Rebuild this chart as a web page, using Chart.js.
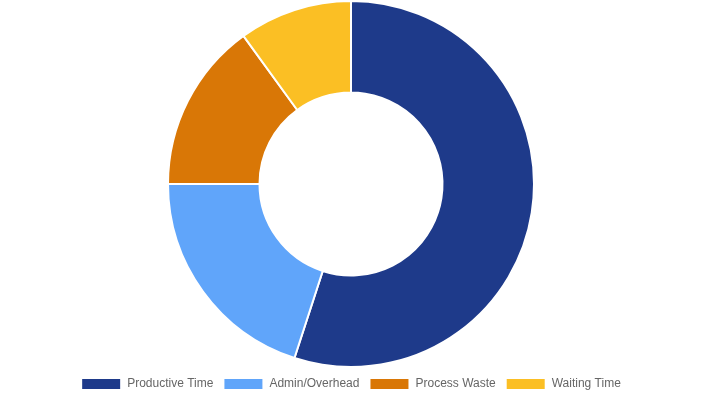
<!DOCTYPE html>
<html>
<head>
<meta charset="utf-8">
<script src="https://cdn.jsdelivr.net/npm/chart.js@4"></script>
<style>
  html, body { margin: 0; padding: 0; background: #fff; }
  #wrap { width: 702px; height: 400px; }
</style>
</head>
<body>
<div id="wrap"><canvas id="grafico"></canvas></div>
<script>
// Datos del gráfico
const categorias = ['Productive Time', 'Admin/Overhead', 'Process Waste', 'Waiting Time'];
const porcentajes = [55, 20, 15, 10];
const colores = ['#1e3a8a', '#60a5fa', '#d97706', '#fbbf24'];

const config = {
    type: 'doughnut',
    data: {
        labels: categorias,
        datasets: [{
            data: porcentajes,
            backgroundColor: colores,
            borderColor: '#ffffff',
            borderWidth: 2
        }]
    },
    options: {
        responsive: true,
        maintainAspectRatio: false,
        animation: false,
        plugins: {
            legend: {
                position: 'bottom',
                labels: {
                    font: { family: 'Arial, Liberation Sans, sans-serif', size: 12 },
                    color: '#666'
                }
            }
        }
    }
};

new Chart(document.getElementById('grafico').getContext('2d'), config);
</script>
</body>
</html>
